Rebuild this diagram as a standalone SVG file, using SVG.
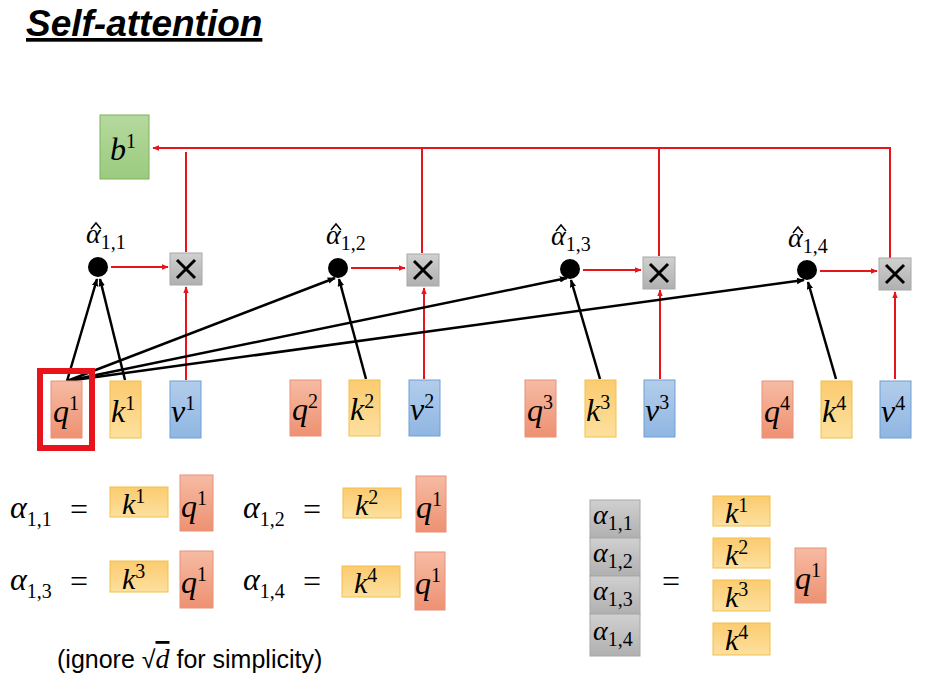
<svg xmlns="http://www.w3.org/2000/svg" width="934" height="684" viewBox="0 0 934 684">
<defs>
<linearGradient id="gq" x1="0" y1="0" x2="0" y2="1"><stop offset="0" stop-color="#F6BBA3"/><stop offset="1" stop-color="#EE9172"/></linearGradient>
<linearGradient id="gk" x1="0" y1="0" x2="0" y2="1"><stop offset="0" stop-color="#FBCB70"/><stop offset="1" stop-color="#FDE09E"/></linearGradient>
<linearGradient id="gv" x1="0" y1="0" x2="0" y2="1"><stop offset="0" stop-color="#B3CDEB"/><stop offset="1" stop-color="#8FB6E2"/></linearGradient>
<linearGradient id="gb" x1="0" y1="0" x2="0" y2="1"><stop offset="0" stop-color="#B5D99E"/><stop offset="1" stop-color="#9BCB7F"/></linearGradient>
<linearGradient id="gg" x1="0" y1="0" x2="0" y2="1"><stop offset="0" stop-color="#D0D0D0"/><stop offset="1" stop-color="#B0B0B0"/></linearGradient>
<marker id="ar" viewBox="0 0 10 10" refX="9" refY="5" markerWidth="7" markerHeight="7" orient="auto" markerUnits="userSpaceOnUse"><path d="M0,1 L10,5 L0,9 z" fill="#E8141C"/></marker>
<marker id="ak" viewBox="0 0 10 10" refX="9" refY="5" markerWidth="8" markerHeight="8" orient="auto" markerUnits="userSpaceOnUse"><path d="M0,1 L10,5 L0,9 z" fill="#000"/></marker>
</defs>
<style>
.q{fill:url(#gq);stroke:#E8907A;stroke-width:1}
.k{fill:url(#gk);stroke:#F2C04A;stroke-width:1}
.v{fill:url(#gv);stroke:#6E9FD6;stroke-width:1}
.g{fill:url(#gg);stroke:#A8A8A8;stroke-width:1}
.m{font-family:"Liberation Serif","DejaVu Serif",serif;font-style:italic;fill:#000}
.sup{font-style:normal;font-size:20px}
.sub{font-style:normal;font-size:20px}
.eq{font-family:"Liberation Serif",serif;font-size:32px}
.red{stroke:#E8141C;stroke-width:2;fill:none}
.blk{stroke:#000;stroke-width:2.5;fill:none}
.hat{stroke:#000;stroke-width:1.5;fill:none}
.x{stroke:#000;stroke-width:3}
</style>
<rect width="934" height="684" fill="#fff"/>
<text x="26" y="36" font-family="Liberation Sans,Arial,sans-serif" font-weight="bold" font-style="italic" font-size="37" text-decoration="underline">Self-attention</text>

<g id="b1"><rect x="100" y="115" width="49" height="64" fill="url(#gb)" stroke="#7DB35A"/><text x="110" y="160" class="m" font-size="32">b<tspan class="sup" dy="-12">1</tspan></text></g>

<g id="connectors">
<polyline class="red" points="890,258 890,148 153,148" marker-end="url(#ar)"/>
<line class="red" x1="186" y1="152" x2="186" y2="252"/>
<line class="red" x1="422" y1="148" x2="422" y2="253"/>
<line class="red" x1="659" y1="148" x2="659" y2="256"/>
<line class="red" x1="111" y1="267" x2="168" y2="267" marker-end="url(#ar)"/>
<line class="red" x1="351" y1="268" x2="405" y2="268" marker-end="url(#ar)"/>
<line class="red" x1="583" y1="270" x2="641" y2="270" marker-end="url(#ar)"/>
<line class="red" x1="820" y1="271" x2="877" y2="271" marker-end="url(#ar)"/>
<line class="red" x1="186" y1="380" x2="186" y2="287" marker-end="url(#ar)"/>
<line class="red" x1="424" y1="379" x2="424" y2="288" marker-end="url(#ar)"/>
<line class="red" x1="660" y1="379" x2="660" y2="290" marker-end="url(#ar)"/>
<line class="red" x1="895" y1="379" x2="895" y2="292" marker-end="url(#ar)"/>
<line class="blk" x1="67" y1="381" x2="97" y2="279" marker-end="url(#ak)"/>
<line class="blk" x1="125" y1="380" x2="100" y2="279" marker-end="url(#ak)"/>
<line class="blk" x1="67" y1="381" x2="335" y2="278" marker-end="url(#ak)"/>
<line class="blk" x1="67" y1="381" x2="567" y2="278" marker-end="url(#ak)"/>
<line class="blk" x1="67" y1="381" x2="804" y2="280" marker-end="url(#ak)"/>
<line class="blk" x1="366" y1="379" x2="339" y2="279" marker-end="url(#ak)"/>
<line class="blk" x1="600" y1="379" x2="571" y2="280" marker-end="url(#ak)"/>
<line class="blk" x1="836" y1="379" x2="808" y2="282" marker-end="url(#ak)"/>
</g>

<g id="alpha1"><circle cx="98" cy="267" r="10"/><text x="86" y="243" class="m" font-size="28">α<tspan class="sub" dy="6">1,1</tspan></text><polyline class="hat" points="91,229 96,223 101,229"/></g>
<g id="alpha2"><circle cx="338" cy="268" r="10"/><text x="326" y="244" class="m" font-size="28">α<tspan class="sub" dy="6">1,2</tspan></text><polyline class="hat" points="331,230 336,224 341,230"/></g>
<g id="alpha3"><circle cx="570" cy="269" r="10"/><text x="551" y="245" class="m" font-size="28">α<tspan class="sub" dy="6">1,3</tspan></text><polyline class="hat" points="556,231 561,225 566,231"/></g>
<g id="alpha4"><circle cx="807" cy="270" r="10"/><text x="788" y="247" class="m" font-size="28">α<tspan class="sub" dy="6">1,4</tspan></text><polyline class="hat" points="793,233 798,227 803,233"/></g>

<g id="mul1"><rect x="170" y="253" width="32" height="32" class="g"/><path class="x" d="M177,260 L195,278 M195,260 L177,278"/></g>
<g id="mul2"><rect x="407" y="254" width="32" height="32" class="g"/><path class="x" d="M414,261 L432,279 M432,261 L414,279"/></g>
<g id="mul3"><rect x="643" y="257" width="32" height="32" class="g"/><path class="x" d="M650,264 L668,282 M668,264 L650,282"/></g>
<g id="mul4"><rect x="879" y="258" width="32" height="32" class="g"/><path class="x" d="M886,265 L904,283 M904,265 L886,283"/></g>

<g id="vec1">
<rect x="51" y="381" width="31" height="57" class="q"/><text x="53" y="422" class="m" font-size="32">q<tspan class="sup" dy="-12">1</tspan></text>
<rect x="110" y="381" width="31" height="57" class="k"/><text x="111" y="422" class="m" font-size="32">k<tspan class="sup" dy="-12">1</tspan></text>
<rect x="170" y="381" width="31" height="57" class="v"/><text x="171" y="422" class="m" font-size="32">v<tspan class="sup" dy="-12">1</tspan></text>
<rect x="40" y="371" width="52" height="77" fill="none" stroke="#E8141C" stroke-width="6"/>
</g>
<g id="vec2">
<rect x="290" y="380" width="31" height="56" class="q"/><text x="292" y="420" class="m" font-size="32">q<tspan class="sup" dy="-12">2</tspan></text>
<rect x="349" y="380" width="31" height="56" class="k"/><text x="350" y="420" class="m" font-size="32">k<tspan class="sup" dy="-12">2</tspan></text>
<rect x="409" y="380" width="31" height="56" class="v"/><text x="410" y="420" class="m" font-size="32">v<tspan class="sup" dy="-12">2</tspan></text>
</g>
<g id="vec3">
<rect x="525" y="380" width="31" height="57" class="q"/><text x="527" y="421" class="m" font-size="32">q<tspan class="sup" dy="-12">3</tspan></text>
<rect x="585" y="380" width="31" height="57" class="k"/><text x="586" y="421" class="m" font-size="32">k<tspan class="sup" dy="-12">3</tspan></text>
<rect x="644" y="380" width="31" height="57" class="v"/><text x="645" y="421" class="m" font-size="32">v<tspan class="sup" dy="-12">3</tspan></text>
</g>
<g id="vec4">
<rect x="762" y="381" width="31" height="57" class="q"/><text x="764" y="422" class="m" font-size="32">q<tspan class="sup" dy="-12">4</tspan></text>
<rect x="821" y="381" width="31" height="57" class="k"/><text x="822" y="422" class="m" font-size="32">k<tspan class="sup" dy="-12">4</tspan></text>
<rect x="880" y="381" width="31" height="57" class="v"/><text x="881" y="422" class="m" font-size="32">v<tspan class="sup" dy="-12">4</tspan></text>
</g>

<g id="eq1">
<text x="10" y="518" class="m" font-size="32">α<tspan class="sub" dy="8">1,1</tspan></text><text x="70" y="520" class="eq">=</text>
<rect x="110" y="487" width="58" height="30" class="k"/><text x="122" y="514" class="m" font-size="30">k<tspan class="sup" dy="-11">1</tspan></text>
<rect x="180" y="475" width="33" height="56" class="q"/><text x="181" y="517" class="m" font-size="32">q<tspan class="sup" dy="-12">1</tspan></text>
</g>
<g id="eq2">
<text x="243" y="518" class="m" font-size="32">α<tspan class="sub" dy="8">1,2</tspan></text><text x="303" y="520" class="eq">=</text>
<rect x="343" y="488" width="58" height="30" class="k"/><text x="355" y="515" class="m" font-size="30">k<tspan class="sup" dy="-11">2</tspan></text>
<rect x="416" y="476" width="30" height="56" class="q"/><text x="416" y="518" class="m" font-size="32">q<tspan class="sup" dy="-12">1</tspan></text>
</g>
<g id="eq3">
<text x="10" y="590" class="m" font-size="32">α<tspan class="sub" dy="8">1,3</tspan></text><text x="70" y="592" class="eq">=</text>
<rect x="110" y="561" width="58" height="31" class="k"/><text x="122" y="589" class="m" font-size="30">k<tspan class="sup" dy="-11">3</tspan></text>
<rect x="180" y="551" width="33" height="57" class="q"/><text x="181" y="593" class="m" font-size="32">q<tspan class="sup" dy="-12">1</tspan></text>
</g>
<g id="eq4">
<text x="243" y="590" class="m" font-size="32">α<tspan class="sub" dy="8">1,4</tspan></text><text x="303" y="592" class="eq">=</text>
<rect x="342" y="566" width="58" height="31" class="k"/><text x="354" y="593" class="m" font-size="30">k<tspan class="sup" dy="-11">4</tspan></text>
<rect x="415" y="552" width="30" height="58" class="q"/><text x="415" y="594" class="m" font-size="32">q<tspan class="sup" dy="-12">1</tspan></text>
</g>

<text x="57" y="668" font-family="Liberation Sans,Arial,sans-serif" font-size="25">(ignore √<tspan class="m" font-size="28" text-decoration="overline">d</tspan> for simplicity)</text>

<g id="matrix">
<rect x="590" y="500" width="50" height="38" class="g"/><text x="593" y="524" class="m" font-size="28">α<tspan class="sub" dy="6">1,1</tspan></text>
<rect x="590" y="538" width="50" height="38" class="g"/><text x="593" y="562" class="m" font-size="28">α<tspan class="sub" dy="6">1,2</tspan></text>
<rect x="590" y="576" width="50" height="38" class="g"/><text x="593" y="600" class="m" font-size="28">α<tspan class="sub" dy="6">1,3</tspan></text>
<rect x="590" y="614" width="50" height="42" class="g"/><text x="593" y="640" class="m" font-size="28">α<tspan class="sub" dy="6">1,4</tspan></text>
<text x="662" y="592" class="eq">=</text>
<rect x="713" y="496" width="57" height="30" class="k"/><text x="725" y="523" class="m" font-size="30">k<tspan class="sup" dy="-11">1</tspan></text>
<rect x="713" y="538" width="57" height="30" class="k"/><text x="725" y="565" class="m" font-size="30">k<tspan class="sup" dy="-11">2</tspan></text>
<rect x="713" y="580" width="57" height="31" class="k"/><text x="725" y="607" class="m" font-size="30">k<tspan class="sup" dy="-11">3</tspan></text>
<rect x="713" y="623" width="57" height="32" class="k"/><text x="725" y="650" class="m" font-size="30">k<tspan class="sup" dy="-11">4</tspan></text>
<rect x="795" y="548" width="31" height="55" class="q"/><text x="795" y="589" class="m" font-size="32">q<tspan class="sup" dy="-12">1</tspan></text>
</g>
</svg>
